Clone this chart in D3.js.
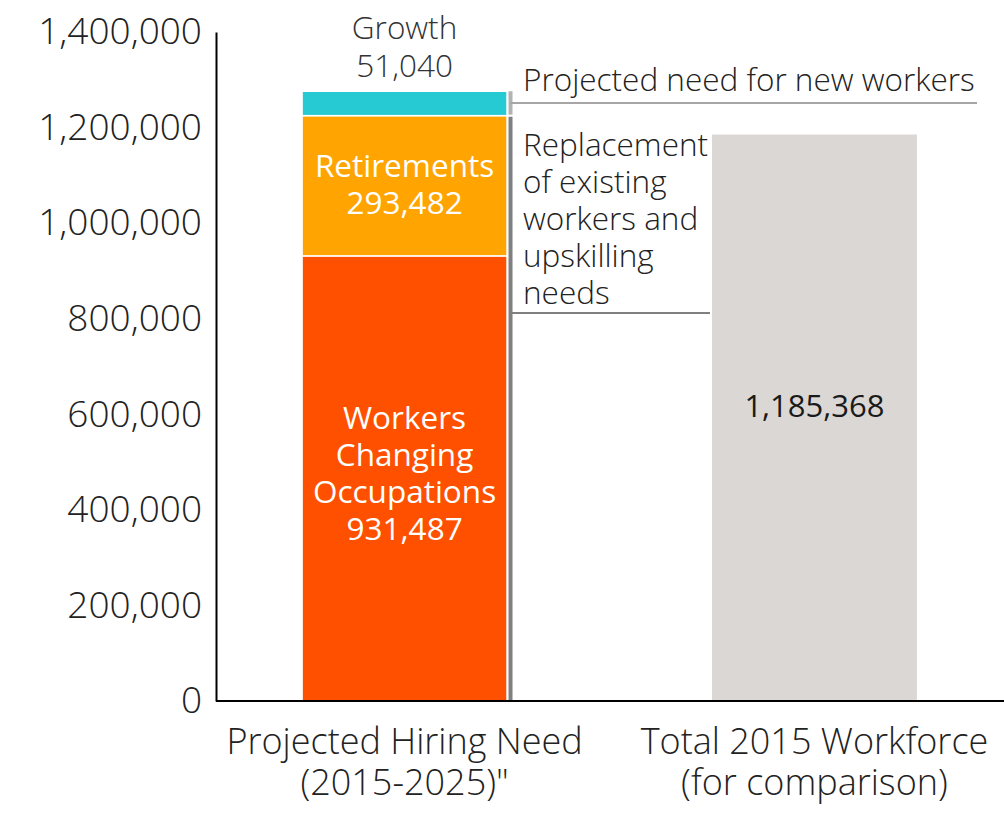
<!DOCTYPE html>
<html>
<head>
<meta charset="utf-8">
<script src="https://cdn.jsdelivr.net/npm/d3@7"></script>
<style>
  body { margin: 0; background: #fff; }
  svg text { font-family: "Open Sans", sans-serif; }
</style>
</head>
<body>
<div id="chart"></div>
<script>
const categories = ["Projected Hiring Need\n(2015-2025)\"", "Total 2015 Workforce\n(for comparison)"];
const segmentNames = ["Workers\nChanging\nOccupations", "Retirements", "Growth"];
const segmentValues = [931487, 293482, 51040];
const segmentColors = ["#ff5000", "#ffa400", "#26cad3"];
const workforceValue = 1185368;
const yTicks = [0, 200000, 400000, 600000, 800000, 1000000, 1200000, 1400000];

const width = 1004, height = 813;
const fmt = d3.format(",");

const svg = d3.select("#chart").append("svg")
  .attr("width", width)
  .attr("height", height);

const y = d3.scaleLinear().domain([0, 1400000]).range([701, 32]);
const x = d3.scaleBand().domain(categories).range([216, 1003])
  .paddingInner(0.5).paddingOuter(0.21);

// stacked segments
let acc = 0;
const stack = segmentValues.map((v, i) => {
  const s = { name: segmentNames[i], value: v, y0: acc, y1: acc + v, color: segmentColors[i] };
  acc += v;
  return s;
});

const bx = x(categories[0]), bw = x.bandwidth();

svg.append("g").selectAll("rect")
  .data(stack)
  .join("rect")
  .attr("x", bx)
  .attr("width", bw)
  .attr("y", d => y(d.y1))
  .attr("height", d => y(d.y0) - y(d.y1))
  .attr("fill", d => d.color)
  .attr("stroke", "#fff")
  .attr("stroke-width", 1.5);

// comparison bar
svg.append("rect")
  .attr("x", x(categories[1]))
  .attr("width", x.bandwidth())
  .attr("y", y(workforceValue))
  .attr("height", y(0) - y(workforceValue))
  .attr("fill", "#dbd7d4");

svg.append("text")
  .attr("x", x(categories[1]) + x.bandwidth() / 2)
  .attr("y", 406)
  .attr("dy", "0.35em")
  .attr("text-anchor", "middle")
  .attr("font-size", 31)
  .attr("fill", "#1a1a1a")
  .text(fmt(workforceValue));

// labels inside / above segments
const labelG = svg.append("g").attr("text-anchor", "middle");
const cx = bx + bw / 2;

function multiline(lines, yc, lh, size, color, weight) {
  const t = labelG.append("text")
    .attr("font-size", size)
    .attr("fill", color)
    .attr("font-weight", weight || 400);
  lines.forEach((l, i) => {
    t.append("tspan")
      .attr("x", cx)
      .attr("y", yc + (i - (lines.length - 1) / 2) * lh)
      .attr("dy", "0.35em")
      .text(l);
  });
}

multiline(stack[0].name.split("\n").concat(fmt(stack[0].value)), 473, 37, 31.5, "#fff");
multiline([stack[1].name, fmt(stack[1].value)], 184, 37, 31.5, "#fff");
multiline([stack[2].name, fmt(stack[2].value)], 47, 38, 31.5, "#333", 300);

// brackets
const bracketX = bx + bw + 3.5;
svg.append("line")
  .attr("x1", bracketX).attr("x2", bracketX)
  .attr("y1", y(stack[2].y1)).attr("y2", y(stack[2].y0) - 1)
  .attr("stroke", "#b3b3b3").attr("stroke-width", 4);
svg.append("line")
  .attr("x1", bracketX).attr("x2", bracketX)
  .attr("y1", y(stack[1].y1) + 1).attr("y2", y(0))
  .attr("stroke", "#808080").attr("stroke-width", 4);
svg.append("line")
  .attr("x1", bracketX).attr("x2", 977)
  .attr("y1", 103).attr("y2", 103)
  .attr("stroke", "#a6a6a6").attr("stroke-width", 2);
svg.append("line")
  .attr("x1", bracketX).attr("x2", 710)
  .attr("y1", 313).attr("y2", 313)
  .attr("stroke", "#808080").attr("stroke-width", 2);

svg.append("text")
  .attr("x", 523).attr("y", 80).attr("dy", "0.35em")
  .attr("font-size", 31.5).attr("font-weight", 300).attr("fill", "#222")
  .text("Projected need for new workers");

const rep = svg.append("text")
  .attr("font-size", 31.5).attr("font-weight", 300).attr("fill", "#222");
["Replacement", "of existing", "workers and", "upskilling", "needs"].forEach((l, i) => {
  rep.append("tspan").attr("x", 523).attr("y", 145 + i * 37).attr("dy", "0.35em").text(l);
});

// y axis
const yAxis = svg.append("g")
  .attr("transform", "translate(216,0)")
  .call(d3.axisLeft(y).tickValues(yTicks).tickFormat(fmt).tickSize(0).tickPadding(14));
yAxis.select(".domain").attr("stroke", "#000").attr("stroke-width", 2);
yAxis.selectAll("text")
  .attr("font-size", 37).attr("font-weight", 300).attr("fill", "#222")
  .attr("font-family", "Open Sans, sans-serif");

// x axis
const xAxis = svg.append("g")
  .attr("transform", "translate(0,701)")
  .call(d3.axisBottom(x).tickSize(0).tickFormat(""));
xAxis.select(".domain").attr("d", "M216,0H1004").attr("stroke", "#000").attr("stroke-width", 2);

xAxis.selectAll(".tick").each(function (d) {
  const t = d3.select(this).append("text")
    .attr("text-anchor", "middle")
    .attr("font-size", 36).attr("font-weight", 300).attr("fill", "#222")
    .attr("font-family", "Open Sans, sans-serif");
  d.split("\n").forEach((l, i) => {
    t.append("tspan").attr("x", 0).attr("y", 40 + i * 41).attr("dy", "0.35em").text(l);
  });
});
</script>
</body>
</html>
